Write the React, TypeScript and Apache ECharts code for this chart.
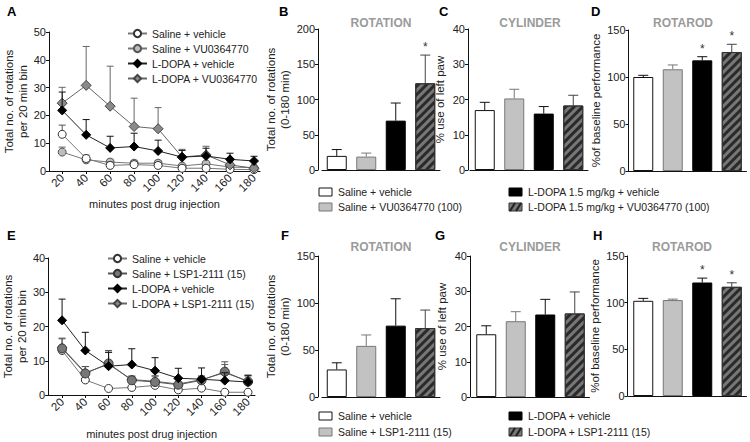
import React, { useEffect, useRef } from "react";
import * as echarts from "echarts";

const FONT = "'Liberation Sans', Arial, Helvetica, sans-serif";

// ---------- time-course data ----------
const minutes = [20, 40, 60, 80, 100, 120, 140, 160, 180];

const aNames = ["Saline + vehicle", "Saline + VU0364770", "L-DOPA + vehicle", "L-DOPA + VU0364770"];
const aSalineVeh = [13.2, 4.5, 2.0, 2.3, 2.0, 1.0, 1.0, 0.6, 0.5];
const aSalineVehSem = [3.3, 1.2, 1.2, 1.0, 1.0, 0.6, 0.8, 0.4, 0.3];
const aSalineVU = [6.8, 4.0, 3.2, 2.8, 2.8, 1.8, 2.6, 1.4, 1.2];
const aSalineVUSem = [1.8, 1.0, 1.0, 1.0, 1.0, 0.6, 0.8, 0.5, 0.4];
const aLdopaVeh = [21.8, 13.0, 8.3, 8.8, 7.2, 5.0, 5.4, 4.2, 3.6];
const aLdopaVehSem = [6.6, 5.5, 4.2, 4.8, 3.9, 2.4, 2.8, 2.2, 1.7];
const aLdopaVU = [24.4, 30.8, 23.3, 16.0, 15.2, 5.0, 5.8, 2.2, 1.0];
const aLdopaVUSem = [5.7, 14.0, 14.4, 10.2, 7.6, 2.8, 3.1, 1.0, 0.6];

const eNames = ["Saline + vehicle", "Saline + LSP1-2111 (15)", "L-DOPA + vehicle", "L-DOPA + LSP1-2111 (15)"];
const eSalineVeh = [13.0, 4.4, 1.9, 2.2, 2.8, 1.5, 2.0, 0.8, 0.8];
const eSalineVehSem = [0.8, 0.6, 0.5, 0.5, 0.5, 0.4, 0.5, 0.3, 0.3];
const eSalineLSP = [13.6, 6.3, 9.2, 4.3, 3.8, 3.0, 4.3, 6.8, 3.9];
const eSalineLSPSem = [3.0, 2.0, 3.8, 1.2, 1.8, 1.5, 1.2, 2.9, 1.7];
const eLdopaVeh = [21.8, 13.0, 8.4, 8.9, 7.1, 4.9, 4.6, 4.2, 3.8];
const eLdopaVehSem = [6.2, 5.3, 4.1, 4.6, 3.8, 2.9, 3.3, 2.3, 2.0];
const eLdopaLSP = [13.8, 6.5, 9.0, 4.5, 4.0, 3.2, 4.5, 6.5, 4.1];
const eLdopaLSPSem = [2.6, 1.8, 3.4, 1.0, 1.5, 1.3, 1.0, 2.4, 1.5];

// ---------- bar data ----------
const topGroups = ["Saline + vehicle", "Saline + VU0364770 (100)", "L-DOPA 1.5 mg/kg + vehicle", "L-DOPA 1.5 mg/kg + VU0364770 (100)"];
const bottomGroups = ["Saline + vehicle", "Saline + LSP1-2111 (15)", "L-DOPA + vehicle", "L-DOPA + LSP1-2111 (15)"];

const bMean = [20, 19, 70, 123];
const bSem = [9, 5, 25, 40];
const bSig = [false, false, false, true];
const cMean = [17, 20.3, 16, 18.3];
const cSem = [2.2, 2.6, 2.0, 2.9];
const cSig = [false, false, false, false];
const dMean = [100, 108.2, 117.7, 126.6];
const dSem = [1.8, 4.6, 3.9, 8.2];
const dSig = [false, false, true, true];
const fMean = [29.3, 54.4, 75.9, 73.4];
const fSem = [7.1, 11.6, 28.6, 19.1];
const fSig = [false, false, false, false];
const gMean = [17.8, 21.5, 23.4, 23.7];
const gSem = [2.4, 2.7, 4.3, 6.1];
const gSig = [false, false, false, false];
const hMean = [102, 102.8, 121.6, 117];
const hSem = [2.6, 1.0, 4.7, 4.3];
const hSig = [false, false, true, true];

const panelTitles = ["ROTATION", "CYLINDER", "ROTAROD"];
const panelLetters = ["A", "B", "C", "D", "E", "F", "G", "H"];

// ---------- styles ----------
const lineStylesA = [
  { symbol: "circle", size: 8, fill: "#ffffff", border: "#333", line: "#777", err: "#555" },
  { symbol: "circle", size: 8, fill: "#bdbdbd", border: "#555", line: "#777", err: "#666" },
  { symbol: "diamond", size: 9, fill: "#000000", border: "#000", line: "#222", err: "#111" },
  { symbol: "diamond", size: 10, fill: "#8a8a8a", border: "#444", line: "#666", err: "#666" },
];
const lineStylesE = [
  { symbol: "circle", size: 8, fill: "#ffffff", border: "#333", line: "#777", err: "#555" },
  { symbol: "circle", size: 9, fill: "#777777", border: "#333", line: "#555", err: "#555" },
  { symbol: "diamond", size: 9, fill: "#000000", border: "#000", line: "#222", err: "#111" },
  { symbol: "diamond", size: 9, fill: "#8a8a8a", border: "#444", line: "#666", err: "#666" },
];
const hatchDecal = {
  symbol: "rect",
  symbolSize: 1,
  color: "#2a2a2a",
  dashArrayX: [1, 0],
  dashArrayY: [2.5, 2.5],
  rotation: -Math.PI / 4,
};
const barStyles = [
  { color: "#ffffff", borderColor: "#111", err: "#111" },
  { color: "#c2c2c2", borderColor: "#777", err: "#777" },
  { color: "#000000", borderColor: "#000", err: "#111" },
  { color: "#777777", borderColor: "#333", err: "#444", decal: hatchDecal },
];

const axisTextStyle = { fontFamily: FONT, fontSize: 11, color: "#222" };
const nameStyle = { fontFamily: FONT, fontSize: 11.5, color: "#222", lineHeight: 14 };

function errorSeries(gridIdx: number, points: number[][], colors: string[], cap: number, z: number) {
  return {
    type: "custom",
    xAxisIndex: gridIdx,
    yAxisIndex: gridIdx,
    silent: true,
    z,
    data: points,
    renderItem: (params: any, api: any) => {
      const x = api.value(0);
      const p0 = api.coord([x, api.value(1)]);
      const p1 = api.coord([x, api.value(2)]);
      const col = colors[params.dataIndex % colors.length];
      const children: any[] = [
        { type: "line", shape: { x1: p0[0], y1: p0[1], x2: p1[0], y2: p1[1] }, style: { stroke: col, lineWidth: 1 } },
        { type: "line", shape: { x1: p1[0] - cap, y1: p1[1], x2: p1[0] + cap, y2: p1[1] }, style: { stroke: col, lineWidth: 1 } },
      ];
      if (api.value(3) === 1) {
        children.push({
          type: "text",
          x: p1[0],
          y: p1[1] - 2,
          style: { text: "*", fontFamily: FONT, fontSize: 12, fill: "#333", align: "center", verticalAlign: "bottom" },
        });
      }
      return { type: "group", children };
    },
  };
}

function lineSeriesSet(gridIdx: number, name: string, vals: number[], sem: number[], st: any, z: number) {
  const line = {
    type: "line",
    name,
    xAxisIndex: gridIdx,
    yAxisIndex: gridIdx,
    data: minutes.map((m, i) => [m, vals[i]]),
    symbol: st.symbol,
    symbolSize: st.size,
    lineStyle: { color: st.line, width: 1 },
    itemStyle: { color: st.fill, borderColor: st.border, borderWidth: 1 },
    z: z + 1,
    silent: true,
  };
  const err = errorSeries(
    gridIdx,
    minutes.map((m, i) => [m, vals[i], vals[i] + sem[i], 0]),
    [st.err],
    3.5,
    z
  );
  return [err, line];
}

function barSeriesSet(gridIdx: number, mean: number[], sem: number[], sig: boolean[]) {
  const bar = {
    type: "bar",
    xAxisIndex: gridIdx,
    yAxisIndex: gridIdx,
    barWidth: 20,
    silent: true,
    z: 3,
    data: mean.map((v, i) => ({
      value: v,
      itemStyle: {
        color: barStyles[i].color,
        borderColor: barStyles[i].borderColor,
        borderWidth: 1,
        decal: barStyles[i].decal,
      },
    })),
  };
  const err = errorSeries(
    gridIdx,
    mean.map((v, i) => [i, v, v + sem[i], sig[i] ? 1 : 0]),
    barStyles.map((b) => b.err),
    5,
    2
  );
  return [err, bar];
}

const grids = [
  { left: 49, top: 32, width: 211, height: 139 },
  { left: 322, top: 29, width: 118, height: 141 },
  { left: 470, top: 29, width: 118, height: 141 },
  { left: 628.5, top: 30, width: 118, height: 141 },
  { left: 46, top: 258, width: 209, height: 139 },
  { left: 322, top: 256, width: 118, height: 141 },
  { left: 471.5, top: 256, width: 118, height: 141 },
  { left: 628.5, top: 256, width: 118, height: 140 },
];

const axisLine = { show: true, lineStyle: { color: "#111", width: 1 } };

function lineXAxis(gridIdx: number, min: number, max: number, nameGap: number) {
  return {
    gridIndex: gridIdx,
    type: "value",
    min,
    max,
    axisLine,
    axisTick: { show: true, customValues: minutes, length: 3, lineStyle: { color: "#111" } },
    axisLabel: { customValues: minutes, rotate: 45, margin: 5, ...axisTextStyle, fontSize: 11.5 },
    splitLine: { show: false },
    name: "minutes post drug injection",
    nameLocation: "middle",
    nameGap,
    nameTextStyle: { ...nameStyle, fontSize: 11 },
  };
}

function barXAxis(gridIdx: number) {
  return {
    gridIndex: gridIdx,
    type: "category",
    data: [0, 1, 2, 3],
    axisLine,
    axisTick: { show: false },
    axisLabel: { show: false },
    splitLine: { show: false },
  };
}

function yAxis(gridIdx: number, max: number, interval: number, name: string, nameGap: number, offset: number) {
  return {
    gridIndex: gridIdx,
    type: "value",
    min: 0,
    max,
    interval,
    offset,
    axisLine,
    axisTick: { show: true, length: 3, lineStyle: { color: "#111" } },
    axisLabel: { margin: 3, ...axisTextStyle },
    splitLine: { show: false },
    name,
    nameLocation: "middle",
    nameGap,
    nameTextStyle: nameStyle,
  };
}

function barLegend(x1: number, x2: number, y1: number, y2: number, names: string[]) {
  const pos = [
    [x1, y1],
    [x1, y2],
    [x2, y1],
    [x2, y2],
  ];
  const els: any[] = [];
  names.forEach((n, i) => {
    const [x, y] = pos[i];
    els.push({
      type: "rect",
      shape: { x, y: y - 4, width: 13, height: 8 },
      style: { fill: barStyles[i].color, stroke: barStyles[i].borderColor, lineWidth: 1 },
    });
    if (barStyles[i].decal) {
      els.push({ type: "line", shape: { x1: x + 1, y1: y + 4, x2: x + 6, y2: y - 4 }, style: { stroke: "#222", lineWidth: 2 } });
      els.push({ type: "line", shape: { x1: x + 7, y1: y + 4, x2: x + 12, y2: y - 4 }, style: { stroke: "#222", lineWidth: 2 } });
    }
    els.push({
      type: "text",
      x: x + 19,
      y,
      style: { text: n, fontFamily: FONT, fontSize: 10.5, fill: "#222", verticalAlign: "middle" },
    });
  });
  return els;
}

export default function App() {
  const ref = useRef<HTMLDivElement>(null);
  useEffect(() => {
    if (!ref.current) return;
    const chart = echarts.init(ref.current, undefined, { renderer: "svg" });

    const aVals = [aSalineVeh, aSalineVU, aLdopaVeh, aLdopaVU];
    const aSems = [aSalineVehSem, aSalineVUSem, aLdopaVehSem, aLdopaVUSem];
    const eVals = [eSalineVeh, eSalineLSP, eLdopaVeh, eLdopaLSP];
    const eSems = [eSalineVehSem, eSalineLSPSem, eLdopaVehSem, eLdopaLSPSem];

    const series: any[] = [];
    [1, 0, 3, 2].forEach((k, j) => {
      series.push(...lineSeriesSet(0, aNames[k], aVals[k], aSems[k], lineStylesA[k], 4 + j * 2));
    });
    [0, 3, 1, 2].forEach((k, j) => {
      series.push(...lineSeriesSet(4, eNames[k], eVals[k], eSems[k], lineStylesE[k], 4 + j * 2));
    });
    series.push(...barSeriesSet(1, bMean, bSem, bSig));
    series.push(...barSeriesSet(2, cMean, cSem, cSig));
    series.push(...barSeriesSet(3, dMean, dSem, dSig));
    series.push(...barSeriesSet(5, fMean, fSem, fSig));
    series.push(...barSeriesSet(6, gMean, gSem, gSig));
    series.push(...barSeriesSet(7, hMean, hSem, hSig));

    const letterPos = [
      [7, 5], [279, 5], [439, 5], [591, 5],
      [7, 229], [281, 229], [435, 229], [593, 229],
    ];
    const titlePos = [
      [381, 23], [530, 23], [683, 23],
      [381, 247], [530, 247], [682, 247],
    ];

    const graphic: any[] = [];
    panelLetters.forEach((l, i) => {
      graphic.push({
        type: "text",
        x: letterPos[i][0],
        y: letterPos[i][1],
        style: { text: l, fontFamily: FONT, fontSize: 13, fontWeight: "bold", fill: "#000" },
      });
    });
    titlePos.forEach((p, i) => {
      graphic.push({
        type: "text",
        x: p[0],
        y: p[1],
        style: {
          text: panelTitles[i % 3],
          fontFamily: FONT,
          fontSize: 12,
          fontWeight: "bold",
          fill: "#9a9a9a",
          align: "center",
          verticalAlign: "middle",
        },
      });
    });
    graphic.push(...barLegend(319, 509, 192, 207, topGroups));
    graphic.push(...barLegend(319, 509, 416, 432, bottomGroups));

    const legendBase = {
      orient: "vertical",
      itemWidth: 19,
      itemHeight: 9,
      itemGap: 4,
      selectedMode: false,
      textStyle: { fontFamily: FONT, fontSize: 10.5, color: "#222" },
    };

    chart.setOption({
      animation: false,
      backgroundColor: "#ffffff",
      grid: grids.map((g) => ({ ...g, containLabel: false })),
      xAxis: [
        lineXAxis(0, 9, 185, 20),
        barXAxis(1),
        barXAxis(2),
        barXAxis(3),
        lineXAxis(4, 8, 186, 32),
        barXAxis(5),
        barXAxis(6),
        barXAxis(7),
      ],
      yAxis: [
        yAxis(0, 50, 10, "Total no. of rotations\nper 20 min bin", 13, 0),
        yAxis(1, 200, 50, "Total no. of rotations\n(0-180 min)", 26, 4),
        yAxis(2, 40, 10, "% use of left paw", 21, 2),
        yAxis(3, 150, 50, "%of baseline performance", 26, 0),
        yAxis(4, 40, 10, "Total no. of rotations\nper 20 min bin", 13, 0),
        yAxis(5, 150, 50, "Total no. of rotations\n(0-180 min)", 26, 4),
        yAxis(6, 40, 10, "% use of left paw", 21, 1.5),
        yAxis(7, 150, 50, "%of baseline performance", 26, 1),
      ],
      legend: [
        { ...legendBase, left: 122, top: 23, data: aNames },
        { ...legendBase, left: 102, top: 248, data: eNames },
      ],
      graphic,
      series,
    });
    return () => chart.dispose();
  }, []);
  return (
    <div
      ref={ref}
      style={{ position: "fixed", left: 0, top: 0, width: 750, height: 442, background: "#fff" }}
    />
  );
}
